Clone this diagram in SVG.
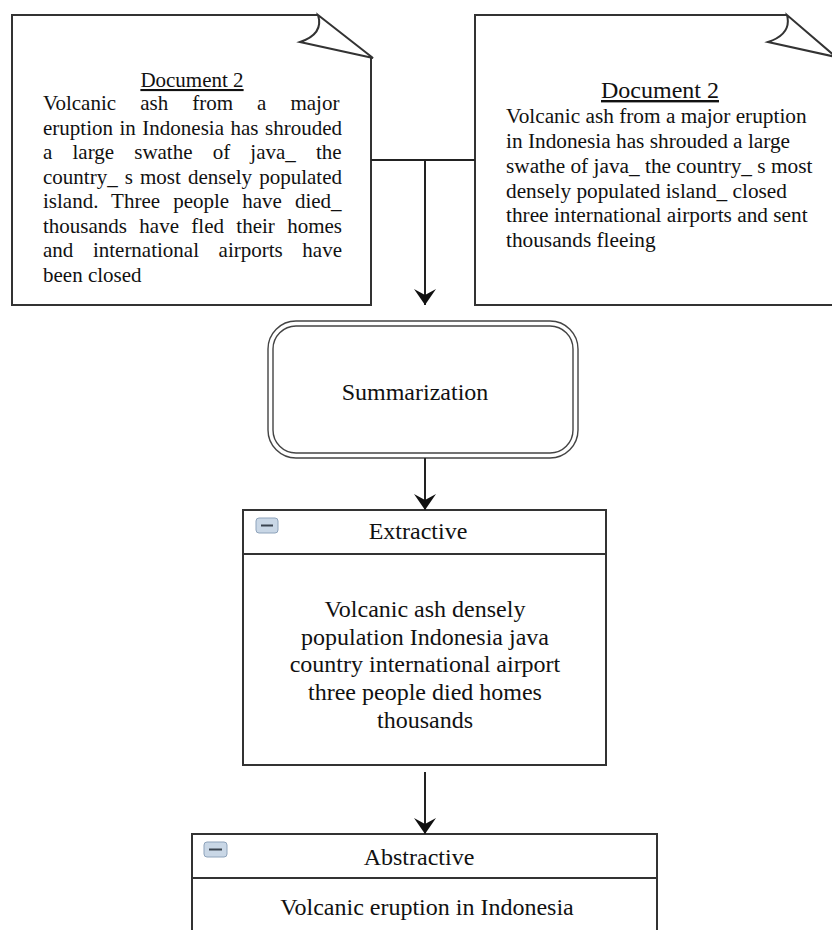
<svg xmlns="http://www.w3.org/2000/svg" width="832" height="930" viewBox="0 0 832 930">
<style>
  .ln { fill: none; stroke: #333; stroke-width: 2; stroke-linejoin: miter; }
  .thin { fill: none; stroke: #444; stroke-width: 1.4; }
  .t { font-family: "Liberation Serif", "Times New Roman", serif; fill: #111; }
  .b21 { font-size: 21px; }
  .r21 { font-size: 21.3px; }
  .b24 { font-size: 24px; }
  .c { text-anchor: middle; }
  .icon { fill: #c9d7e6; stroke: #8ea3bb; stroke-width: 1; }
  .dash { stroke: #3a4450; stroke-width: 2; }
  .conn { fill: none; stroke: #222; stroke-width: 2; }
</style>
<defs>
  <marker id="arr" markerUnits="userSpaceOnUse" markerWidth="24" markerHeight="24" viewBox="-17 -12 18 24" refX="0" refY="0" orient="auto">
    <path d="M0,0 L-16,-11 L-10,0 L-16,11 Z" fill="#111"/>
  </marker>
</defs>
<rect width="832" height="930" fill="#fff"/>

<g id="doc-left">
  <path class="ln" d="M318,15 L12,15 L12,305 L371,305 L371,58"/>
  <path class="ln" d="M318,15 Q324,34 300,42 L373,58 Z" fill="#fff"/>
  <text class="t b21 c" x="192" y="87" text-decoration="underline">Document 2</text>
  <text class="t b21" x="43" y="110" word-spacing="18.8">Volcanic ash from a major</text>
  <text class="t b21" x="43" y="134.5" word-spacing="1.26">eruption in Indonesia has shrouded</text>
  <text class="t b21" x="43" y="159" word-spacing="14.9">a large swathe of java_ the</text>
  <text class="t b21" x="43" y="183.5" word-spacing="1.84">country_ s most densely populated</text>
  <text class="t b21" x="43" y="208" word-spacing="7.83">island. Three people have died_</text>
  <text class="t b21" x="43" y="232.5" word-spacing="7.09">thousands have fled their homes</text>
  <text class="t b21" x="43" y="257" word-spacing="14.32">and international airports have</text>
  <text class="t b21" x="43" y="281.5">been closed</text>
</g>

<g id="doc-right">
  <path class="ln" d="M787,15 L475,15 L475,305 L840,305"/>
  <path class="ln" d="M787,15 Q792,34 768,42 L836,57 Z" fill="#fff"/>
  <text class="t b24 c" x="660" y="98" text-decoration="underline">Document 2</text>
  <text class="t r21" x="506" y="123">Volcanic ash from a major eruption</text>
  <text class="t r21" x="506" y="148">in Indonesia has shrouded a large</text>
  <text class="t r21" x="506" y="173">swathe of java_ the country_ s most</text>
  <text class="t r21" x="506" y="197.5">densely populated island_ closed</text>
  <text class="t r21" x="506" y="222">three international airports and sent</text>
  <text class="t r21" x="506" y="247">thousands fleeing</text>
</g>

<g id="summarization">
  <rect class="thin" x="268" y="321" width="310" height="137" rx="28" ry="28"/>
  <rect class="thin" x="273" y="326" width="300" height="127" rx="23" ry="23"/>
  <text class="t b24 c" x="415" y="400">Summarization</text>
</g>

<g id="extractive">
  <rect class="ln" x="243" y="510" width="363" height="255"/>
  <line class="ln" x1="243" y1="554" x2="606" y2="554"/>
  <rect class="icon" x="256" y="518" width="22" height="15" rx="3"/>
  <line class="dash" x1="261" y1="525.5" x2="273" y2="525.5"/>
  <text class="t b24 c" x="418" y="539">Extractive</text>
  <text class="t b24 c" x="425" y="617">Volcanic ash densely</text>
  <text class="t b24 c" x="425" y="645">population Indonesia java</text>
  <text class="t b24 c" x="425" y="672">country international airport</text>
  <text class="t b24 c" x="425" y="700">three people died homes</text>
  <text class="t b24 c" x="425" y="728">thousands</text>
</g>

<g id="abstractive">
  <path class="ln" d="M192,940 L192,834 L657,834 L657,940"/>
  <line class="ln" x1="192" y1="878" x2="657" y2="878"/>
  <rect class="icon" x="204" y="842" width="23" height="15" rx="3"/>
  <line class="dash" x1="209" y1="849.5" x2="222" y2="849.5"/>
  <text class="t b24 c" x="419" y="865">Abstractive</text>
  <text class="t b24 c" x="427" y="915">Volcanic eruption in Indonesia</text>
</g>

<g id="connectors">
  <line class="conn" x1="371" y1="160" x2="475" y2="160"/>
  <line class="conn" x1="425" y1="160" x2="425" y2="305" marker-end="url(#arr)"/>
  <line class="conn" x1="425" y1="458" x2="425" y2="510" marker-end="url(#arr)"/>
  <line class="conn" x1="425" y1="772" x2="425" y2="834" marker-end="url(#arr)"/>
</g>
</svg>
